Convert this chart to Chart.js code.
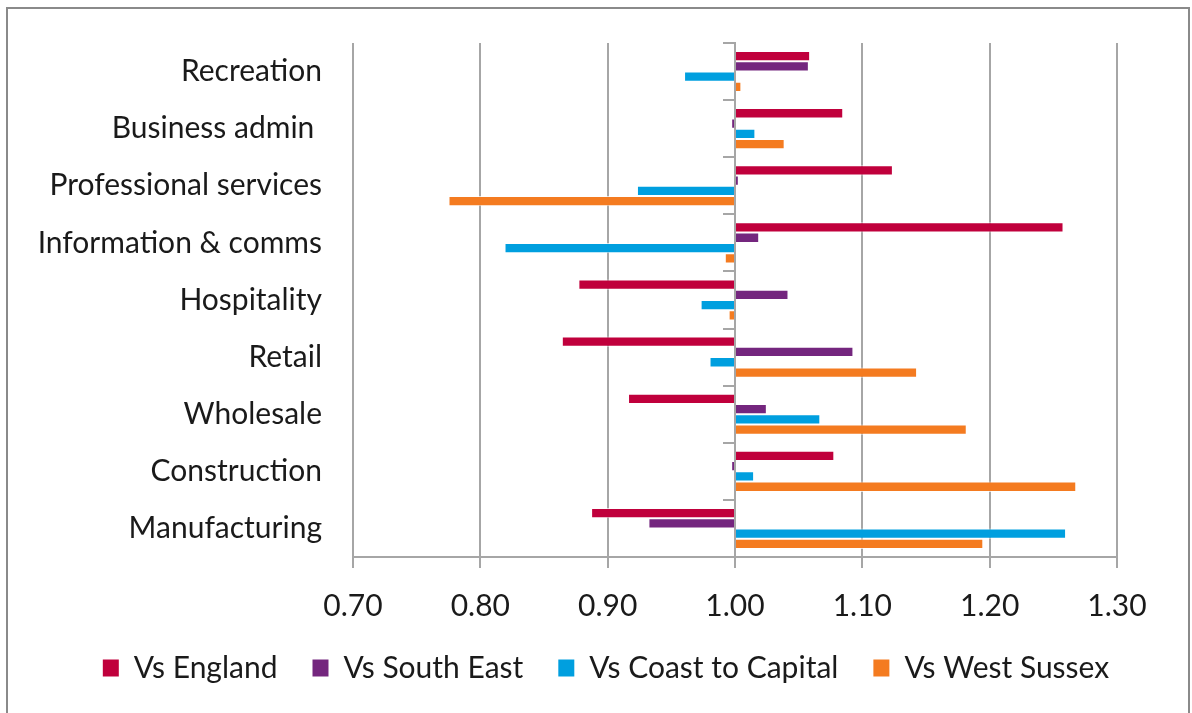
<!DOCTYPE html>
<html>
<head>
<meta charset="utf-8">
<script src="https://cdn.jsdelivr.net/npm/chart.js@4.4.1/dist/chart.umd.min.js"></script>
<style>
  html, body { margin: 0; padding: 0; background: #ffffff; }
  #wrap { position: relative; width: 1192px; height: 713px; overflow: hidden; }
  #frame { position: absolute; left: 6px; top: 7px; width: 1184px; height: 730px; box-sizing: border-box; border: 2px solid #8a8a8a; }
  #c { position: absolute; left: 0; top: 0; }
</style>
</head>
<body>
<div id="wrap">
  <div id="frame"></div>
  <canvas id="c" width="1192" height="713"></canvas>
</div>
<script>
// ---- data ----
const categories = ["Recreation", "Business admin ", "Professional services", "Information & comms", "Hospitality", "Retail", "Wholesale", "Construction", "Manufacturing"];
const seriesNames = ["Vs England", "Vs South East", "Vs Coast to Capital", "Vs West Sussex"];
const vsEngland      = [1.059, 1.085, 1.124, 1.258, 0.877, 0.864, 0.916, 1.078, 0.887];
const vsSouthEast    = [1.058, 0.997, 1.003, 1.019, 1.042, 1.093, 1.025, 0.997, 0.932];
const vsCoastCapital = [0.960, 1.016, 0.923, 0.819, 0.973, 0.980, 1.067, 1.015, 1.260];
const vsWestSussex   = [1.005, 1.039, 0.775, 0.992, 0.995, 1.143, 1.182, 1.268, 1.195];
const xTicks = [0.70, 0.80, 0.90, 1.00, 1.10, 1.20, 1.30];
const baseValue = 1.00;

const colors = ["#C0003C", "#74267E", "#009FDF", "#F47B20"];
const seriesValues = [vsEngland, vsSouthEast, vsCoastCapital, vsWestSussex];

Chart.defaults.font.family = "Lato, 'Open Sans', sans-serif";
const gridColor = "#A6A6A6";
const textColor = "#1a1a1a";

const datasets = seriesValues.map((vals, i) => ({
  label: seriesNames[i],
  data: vals,
  base: baseValue,
  backgroundColor: colors[i],
  borderColor: "rgba(255,255,255,0.7)",
  borderWidth: 1,
  borderSkipped: "start",
  yAxisID: "y",
  categoryPercentage: 0.72,
  barPercentage: 1.0
}));

new Chart(document.getElementById("c"), {
  type: "bar",
  data: { labels: categories, datasets },
  options: {
    indexAxis: "y",
    responsive: false,
    animation: false,
    devicePixelRatio: 1,
    layout: { padding: { left: 20, right: 0, top: 43, bottom: 20 } },
    plugins: {
      tooltip: { enabled: false },
      legend: {
        position: "bottom",
        labels: {
          boxWidth: 16,
          boxHeight: 17,
          padding: 35,
          color: textColor,
          font: { size: 30 },
          generateLabels: (ch) => Chart.defaults.plugins.legend.labels.generateLabels(ch).map(it => Object.assign(it, { lineWidth: 0, strokeStyle: it.fillStyle }))
        }
      }
    },
    scales: {
      y: {
        type: "category",
        position: "left",
        grid: { display: false, drawTicks: true, tickLength: 31 },
        border: { display: false },
        ticks: { color: textColor, font: { size: 30 }, padding: 0, autoSkip: false },
        afterFit: (s) => { s.width = 333; }
      },
      yRight: {
        type: "category",
        labels: categories,
        position: "right",
        grid: { display: false, drawTicks: false },
        border: { display: false },
        ticks: { display: false },
        afterFit: (s) => { s.width = 75; }
      },
      y2: {
        type: "category",
        labels: categories,
        position: { x: baseValue },
        offset: true,
        grid: { drawOnChartArea: false, offset: true, drawTicks: true, tickLength: 11, color: gridColor, lineWidth: 2 },
        border: { display: true, color: gridColor, width: 2 },
        ticks: { display: false }
      },
      x: {
        type: "linear",
        position: "bottom",
        min: xTicks[0],
        max: xTicks[xTicks.length - 1],
        afterBuildTicks: (s) => { s.ticks = xTicks.map(v => ({ value: v })); },
        grid: { color: gridColor, lineWidth: 2, drawTicks: true, tickLength: 11 },
        border: { display: true, color: gridColor, width: 2 },
        ticks: { color: textColor, font: { size: 30 }, padding: 20, callback: (v) => Number(v).toFixed(2) },
        afterFit: (s) => { s.height = 61; s._computeLabelArea = () => undefined; }
      }
    }
  }
});
</script>
</body>
</html>
